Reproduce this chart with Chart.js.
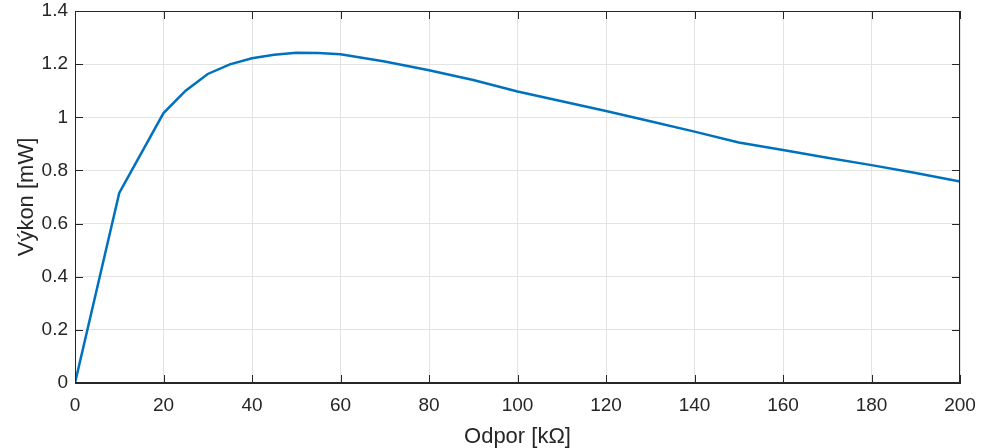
<!DOCTYPE html>
<html>
<head>
<meta charset="utf-8">
<script src="https://cdn.jsdelivr.net/npm/chart.js@4"></script>
<style>
  html, body { margin: 0; padding: 0; background: #fff; }
  #wrap { width: 981px; height: 448px; }
</style>
</head>
<body>
<div id="wrap"><canvas class="chart" width="981" height="448"></canvas></div>
<script>
// odpor [kOhm] a vykon [mW]
let odpor = [0, 10, 20, 25, 30, 35, 40, 45, 50, 55, 60, 70, 80, 90, 100, 110, 120, 130, 140, 150, 160, 170, 180, 190, 200];
let vykon = [0, 0.715, 1.016, 1.10, 1.163, 1.199, 1.222, 1.235, 1.243, 1.242, 1.237, 1.21, 1.177, 1.14, 1.097, 1.06, 1.024, 0.985, 0.946, 0.905, 0.877, 0.848, 0.82, 0.79, 0.758];
let xTicks = [0, 20, 40, 60, 80, 100, 120, 140, 160, 180, 200];
let yTicks = [0, 0.2, 0.4, 0.6, 0.8, 1, 1.2, 1.4];

let points = odpor.map((r, i) => ({ x: r, y: vykon[i] }));
let axisColor = "#262626";
let font = "'Liberation Sans', Arial, sans-serif";

// matlab-like box and inward ticks
let boxPlugin = {
  id: "box",
  afterDraw(chart) {
    let ctx = chart.ctx;
    let a = chart.chartArea;
    let xs = chart.scales.x;
    let ys = chart.scales.y;
    let len = 8;
    ctx.save();
    ctx.strokeStyle = axisColor;
    ctx.lineWidth = 1;
    ctx.strokeRect(a.left + 0.5, a.top + 0.5, a.right - a.left - 1, a.bottom - a.top - 1);
    ctx.beginPath();
    xTicks.forEach((t) => {
      let px = Math.round(xs.getPixelForValue(t)) + 0.5;
      ctx.moveTo(px, a.bottom);
      ctx.lineTo(px, a.bottom - len);
      ctx.moveTo(px, a.top);
      ctx.lineTo(px, a.top + len);
    });
    yTicks.forEach((t) => {
      let py = Math.round(ys.getPixelForValue(t)) + 0.5;
      ctx.moveTo(a.left, py);
      ctx.lineTo(a.left + len, py);
      ctx.moveTo(a.right, py);
      ctx.lineTo(a.right - len, py);
    });
    ctx.stroke();
    ctx.restore();
  },
};

let config = {
  type: "line",
  data: {
    datasets: [
      {
        data: points,
        borderColor: "#0072BD",
        borderWidth: 2.5,
        pointRadius: 0,
        tension: 0,
        fill: false,
      },
    ],
  },
  options: {
    responsive: false,
    animation: false,
    events: [],
    layout: { padding: { top: 11, right: 21, left: 14, bottom: 0 } },
    plugins: {
      legend: { display: false },
      tooltip: { enabled: false },
    },
    scales: {
      x: {
        type: "linear",
        min: 0,
        max: 200,
        afterBuildTicks: (s) => { s.ticks = xTicks.map((v) => ({ value: v })); },
        afterFit: (s) => { s.height = 65; s.paddingLeft = 0; s.paddingRight = 0; },
        grid: { color: "#e3e3e3", drawTicks: false },
        border: { color: axisColor },
        ticks: { color: axisColor, padding: 11, font: { family: font, size: 19 }, maxRotation: 0, callback: (v) => String(v) },
        title: { display: true, text: "Odpor [kΩ]", color: axisColor, padding: { top: 5, bottom: -2 }, font: { family: font, size: 22 } },
      },
      y: {
        min: 0,
        max: 1.4,
        afterBuildTicks: (s) => { s.ticks = yTicks.map((v) => ({ value: v })); },
        afterFit: (s) => { s.width = 61; s.paddingTop = 0; s.paddingBottom = 0; },
        grid: { color: "#e3e3e3", drawTicks: false },
        border: { color: axisColor },
        ticks: { color: axisColor, padding: 7, font: { family: font, size: 19 }, callback: (v) => String(v) },
        title: { display: true, text: "Výkon [mW]", color: axisColor, padding: { top: 0, bottom: 0 }, font: { family: font, size: 22 } },
      },
    },
  },
  plugins: [boxPlugin],
};

let mainChart = new Chart(document.querySelector(".chart"), config);
</script>
</body>
</html>
